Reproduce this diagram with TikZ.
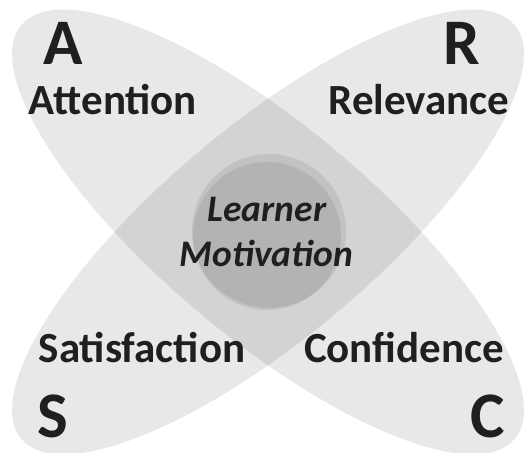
\documentclass[tikz,border=0pt]{standalone}
\usepackage{fontspec}
\setmainfont{Carlito}

\tikzset{
  petal/.style={fill=black, fill opacity=0.09},
  hub/.style={fill=black, fill opacity=0.08},
  bigletter/.style={font=\bfseries\fontsize{65}{65}\selectfont, text=black!88, inner sep=0pt, anchor=base},
  wordtag/.style={font=\bfseries\fontsize{43}{43}\selectfont, text=black!88, inner sep=0pt, anchor=base},
  hubtag/.style={font=\bfseries\itshape\fontsize{37.5}{37.5}\selectfont, text=black!88, inner sep=0pt, anchor=base}
}

\begin{document}
\begin{tikzpicture}[x=1pt,y=1pt]
  \useasboundingbox (0,0) rectangle (526,452);

  % the two petals
  \fill[petal] (268,220) ellipse[x radius=322, y radius=106, rotate=-40];
  \fill[petal] (268,220) ellipse[x radius=322, y radius=106, rotate=40];

  % centre
  \fill[hub] (269,221) circle (77);
  \fill[hub] (267,216) circle (74);

  % letters
  \node[bigletter] (A) at (63,387) {A};
  \node[bigletter] (R) at (462,387) {R};
  \node[bigletter] (S) at (52.5,15) {S};
  \node[bigletter] (C) at (487.5,15) {C};

  % words
  \node[wordtag] (attention) at (113,337) {Attention};
  \node[wordtag] (relevance) at (419,337) {Relevance};
  \node[wordtag] (satisfaction) at (142,90) {Satisfaction};
  \node[wordtag] (confidence) at (404,90) {Confidence};

  \node[hubtag] (learner) at (267,230) {Learner};
  \node[hubtag] (motivation) at (266.5,185) {Motivation};
\end{tikzpicture}
\end{document}
